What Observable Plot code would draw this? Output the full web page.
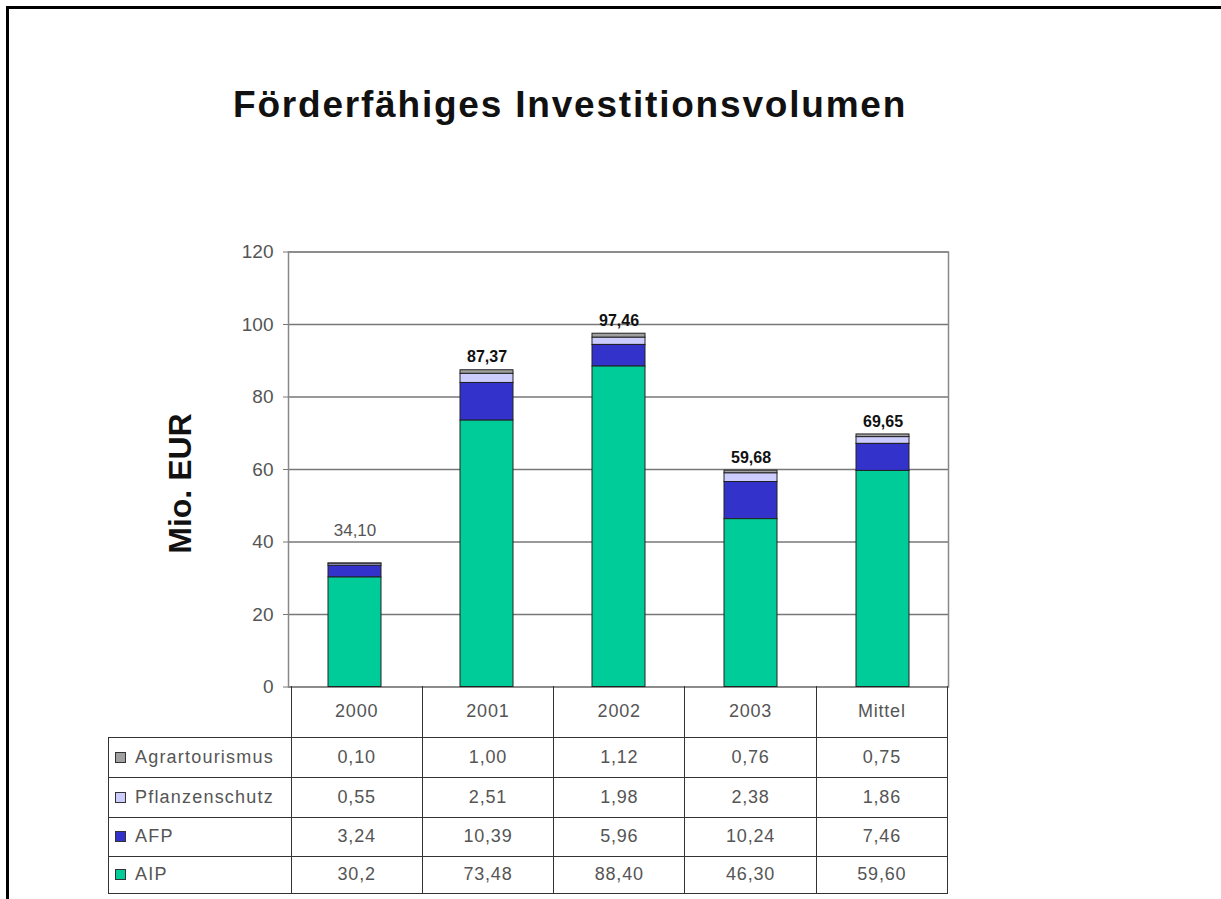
<!DOCTYPE html>
<html>
<head>
<meta charset="utf-8">
<script src="https://cdn.jsdelivr.net/npm/d3@7"></script>
<script src="https://cdn.jsdelivr.net/npm/@observablehq/plot@0.6"></script>
<style>
  html, body { margin: 0; padding: 0; background: #fff; width: 1221px; height: 899px; overflow: hidden;
    font-family: "Liberation Sans", Arial, sans-serif; }
  #frame { position: absolute; left: 6px; top: 6px; width: 1300px; height: 1000px;
    border-top: 3px solid #000; border-left: 3px solid #000; }
  #title { position: absolute; left: 233px; top: 86px; font-size: 37px; line-height: 1; font-weight: bold;
    letter-spacing: 1.8px; color: #111; white-space: nowrap; margin: 0; }
  #chart { position: absolute; left: 0; top: 230px; }
  #tbl { position: absolute; left: 108px; top: 686px; border-collapse: collapse; table-layout: fixed;
    font-size: 18px; color: #555; letter-spacing: 0.8px; }
  #tbl td { border: 1.5px solid #333; text-align: center; padding: 0; width: 130.3px; height: 39px; }
  #tbl tr.head td { height: 50.5px; border-top: none; }
  #tbl tr.head td.corner { border-left: none; width: 182px; }
  #tbl tr:nth-child(4) td { height: 38px; }
  #tbl tr:nth-child(5) td { height: 36px; }
  #tbl td.leg { text-align: left; letter-spacing: 1.2px; white-space: nowrap; }
  #tbl .sw { display: inline-block; width: 9px; height: 9px; border: 1px solid #333; margin: 0 9px 0 6px;
    vertical-align: 0px; }
</style>
</head>
<body>
<div id="frame"></div>
<h1 id="title">Förderfähiges Investitionsvolumen</h1>
<div id="chart"></div>
<script>
// ---- data ----
const categories = ["2000", "2001", "2002", "2003", "Mittel"];
const seriesNames = ["Agrartourismus", "Pflanzenschutz", "AFP", "AIP"];
const seriesColors = ["#a0a0a0", "#ccccff", "#3333cc", "#00cc99"];
const agrartourismus = ["0,10", "1,00", "1,12", "0,76", "0,75"];
const pflanzenschutz = ["0,55", "2,51", "1,98", "2,38", "1,86"];
const afp = ["3,24", "10,39", "5,96", "10,24", "7,46"];
const aip = ["30,2", "73,48", "88,40", "46,30", "59,60"];
const totals = ["34,10", "87,37", "97,46", "59,68", "69,65"];
const yTicks = [0, 20, 40, 60, 80, 100, 120];
const yLabel = "Mio. EUR";
const stackOrder = ["AIP", "AFP", "Pflanzenschutz", "Agrartourismus"];

const seriesText = [agrartourismus, pflanzenschutz, afp, aip];
const num = s => parseFloat(s.replace(",", "."));

const rows = [];
seriesNames.forEach((s, i) => categories.forEach((c, j) =>
  rows.push({category: c, series: s, value: num(seriesText[i][j])})));
const totalRows = categories.map((c, j) => ({category: c, total: num(totals[j]), label: totals[j]}));

const font = '"Liberation Sans", Arial, sans-serif';

const chart = Plot.plot({
  width: 1000,
  height: 476.5,
  marginLeft: 288,
  marginRight: 52,
  marginTop: 21.5,
  marginBottom: 20,
  style: {fontFamily: font, fontSize: "19px", color: "#555", background: "transparent"},
  x: {domain: categories, paddingInner: 0.6, paddingOuter: 0.3, axis: null},
  y: {domain: [0, 120], axis: null},
  color: {domain: seriesNames, range: seriesColors},
  marks: [
    Plot.gridY(yTicks, {stroke: "#777", strokeOpacity: 1, strokeWidth: 1.5}),
    Plot.frame({stroke: "#888", strokeWidth: 1.5}),
    Plot.axisY(yTicks, {tickSize: 5, tickPadding: 10, label: null, stroke: "#777", fill: "#555", fontSize: 19}),
    Plot.barY(rows, {x: "category", y: "value", fill: "series", z: "series", order: stackOrder,
      stroke: "#222", strokeWidth: 1}),
    Plot.text(totalRows.filter(d => d.category !== "2000"), {x: "category", y: "total", text: "label",
      dy: -8, lineAnchor: "bottom", fontWeight: "bold", fontSize: 16, fill: "#111"}),
    Plot.text(totalRows.filter(d => d.category === "2000"), {x: "category", y: "total", text: "label",
      dy: -27, lineAnchor: "bottom", fontSize: 17, fill: "#555"}),
    Plot.text([yLabel], {frameAnchor: "left", textAnchor: "middle", lineAnchor: "middle", rotate: -90,
      dx: -108, dy: 14, fontSize: 32, fontWeight: "bold", fill: "#111"})
  ]
});
document.getElementById("chart").appendChild(chart);

// ---- data table below the chart ----
const tbl = d3.select("body").append("table").attr("id", "tbl");
const head = tbl.append("tr").attr("class", "head");
head.append("td").attr("class", "corner");
categories.forEach(c => head.append("td").text(c));
seriesNames.forEach((s, i) => {
  const tr = tbl.append("tr");
  const td0 = tr.append("td").attr("class", "leg");
  td0.append("span").attr("class", "sw").style("background", seriesColors[i]);
  td0.append("span").text(s);
  seriesText[i].forEach(v => tr.append("td").text(v));
});
</script>
</body>
</html>
